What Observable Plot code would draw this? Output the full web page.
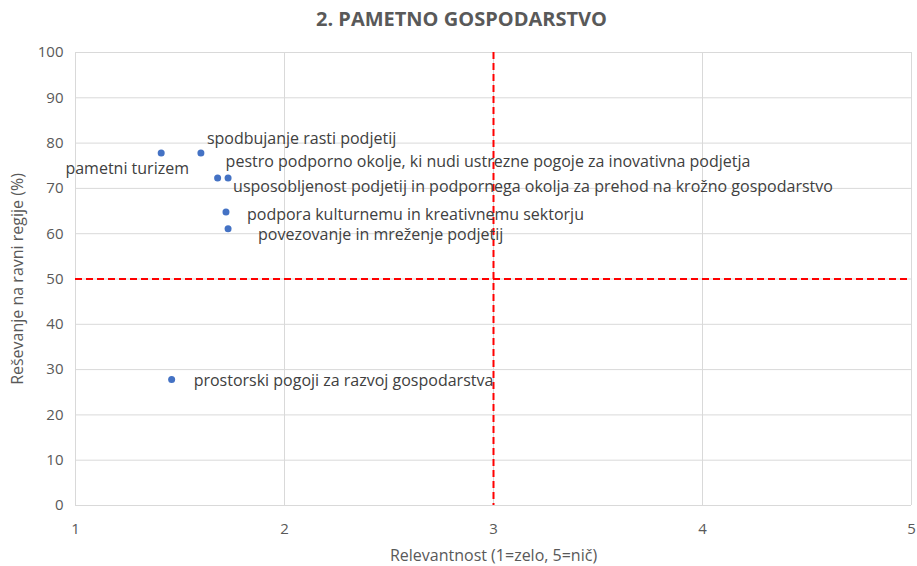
<!DOCTYPE html>
<html><head><meta charset="utf-8">
<script src="https://cdn.jsdelivr.net/npm/d3@7"></script>
<script src="https://cdn.jsdelivr.net/npm/@observablehq/plot@0.6"></script>
<style>
body{margin:0;background:#fff;font-family:"Open Sans","Noto Sans",sans-serif;}
#title{height:36px;line-height:38px;text-align:center;font-weight:bold;font-size:20px;color:#595959;padding-left:6px;}
</style></head><body>
<div id="title">2. PAMETNO GOSPODARSTVO</div>
<div id="chart"></div>
<script>
const names = ["pametni turizem","spodbujanje rasti podjetij","pestro podporno okolje, ki nudi ustrezne pogoje za inovativna podjetja","usposobljenost podjetij in podpornega okolja za prehod na krožno gospodarstvo","podpora kulturnemu in kreativnemu sektorju","povezovanje in mreženje podjetij","prostorski pogoji za razvoj gospodarstva"];
const relevance = [1.41, 1.60, 1.68, 1.73, 1.72, 1.73, 1.46];
const solved = [77.8, 77.8, 72.3, 72.3, 64.8, 61.1, 27.8];
const labelDx = [-34, 6, 8, 5, 21, 30, 22];
const labelDy = [16, -14, -16, 9, 3, 6, 1];
const anchors = ["middle","start","start","start","start","start","start"];
const xTicks = [1,2,3,4,5];
const yTicks = [0,10,20,30,40,50,60,70,80,90,100];
const xThreshold = [3];
const yThreshold = [50];
const xLabel = "Relevantnost (1=zelo, 5=nič)";
const yLabel = "Reševanje na ravni regije (%)";

const data = names.map((n,i)=>({name:n,x:relevance[i],y:solved[i]}));
const gray = "#595959";
const labelMarks = data.map((d,i) => Plot.text([d], {x:"x", y:"y", text:"name", dx:labelDx[i], dy:labelDy[i], textAnchor:anchors[i], fill:"#404040", fontSize:16}));

const chart = Plot.plot({
  width:917, height:530,
  marginLeft:75, marginRight:6, marginTop:16, marginBottom:61,
  style:{fontFamily:'"Open Sans","Noto Sans",sans-serif', background:"#fff"},
  x:{domain:[1,5]},
  y:{domain:[0,100]},
  marks:[
    Plot.ruleX(xTicks,{stroke:"#d9d9d9", strokeWidth:1}),
    Plot.ruleY(yTicks,{stroke:"#d9d9d9", strokeWidth:1}),
    Plot.axisX({ticks:xTicks, tickFormat:"d", tickSize:0, tickPadding:18, fontSize:15, color:gray, label:null}),
    Plot.axisY({ticks:yTicks, tickFormat:"d", tickSize:0, tickPadding:12, fontSize:15, color:gray, label:null}),
    Plot.text([xLabel], {frameAnchor:"bottom", textAnchor:"middle", dy:55, fontSize:16, fill:gray}),
    Plot.text([yLabel], {frameAnchor:"left", textAnchor:"middle", dx:-58, rotate:-90, fontSize:16, fill:gray}),
    Plot.ruleX(xThreshold,{stroke:"#ff0000", strokeWidth:2, strokeDasharray:"7,4"}),
    Plot.ruleY(yThreshold,{stroke:"#ff0000", strokeWidth:2, strokeDasharray:"7,4"}),
    Plot.dot(data,{x:"x", y:"y", r:3.5, fill:"#4472c4", stroke:"none"}),
    ...labelMarks
  ]
});
document.getElementById("chart").appendChild(chart);
</script>
</body></html>
